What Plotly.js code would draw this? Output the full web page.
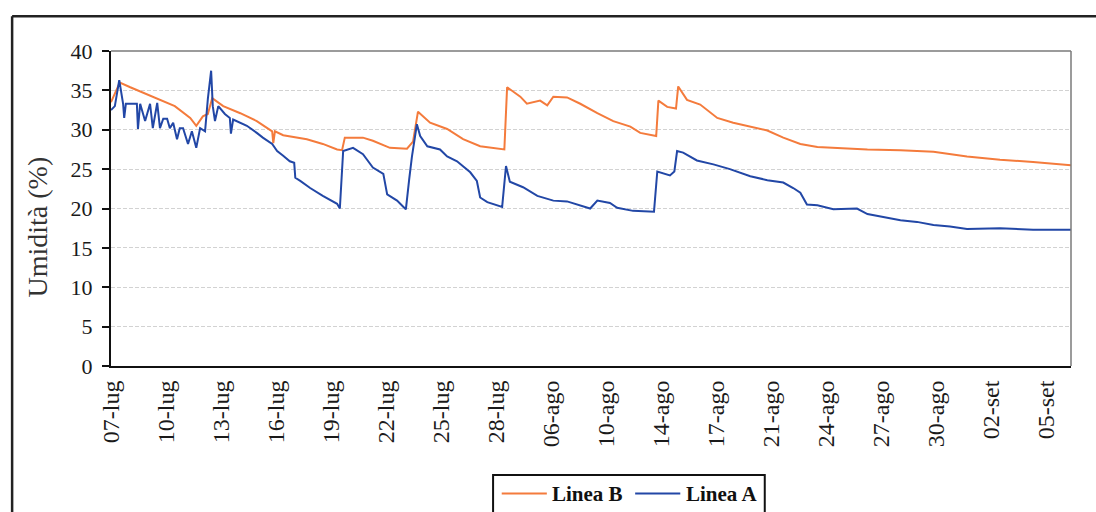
<!DOCTYPE html>
<html>
<head>
<meta charset="utf-8">
<script src="https://cdn.plot.ly/plotly-3.0.1.min.js"></script>
<style>
  html, body { margin: 0; padding: 0; background: #ffffff; }
  #chart { width: 1096px; height: 512px; }
</style>
</head>
<body>
<div id="chart"></div>
<script>
// Category labels along the time axis (one every tick step)
const tickLabels = ["07-lug", "10-lug", "13-lug", "16-lug", "19-lug", "22-lug", "25-lug", "28-lug",
  "06-ago", "10-ago", "14-ago", "17-ago", "21-ago", "24-ago", "27-ago", "30-ago", "02-set", "05-set"];

// Linea B – position along the axis (in tick steps) and moisture (%)
const posB = [0.00, 0.07, 0.16, 0.35, 0.84, 1.16, 1.44, 1.55, 1.67, 1.76, 1.84, 2.04, 2.35, 2.65, 2.93, 2.95, 2.98,
  3.13, 3.56, 3.85, 4.11, 4.20, 4.25, 4.58, 4.76, 5.07, 5.38, 5.49, 5.58, 5.80, 6.11, 6.40, 6.71, 6.95,
  7.15, 7.20, 7.44, 7.56, 7.80, 7.93, 8.04, 8.29, 8.53, 8.84, 9.13, 9.44, 9.62, 9.91, 9.95, 10.11, 10.27,
  10.31, 10.47, 10.71, 11.02, 11.31, 11.93, 12.22, 12.53, 12.84, 13.75, 14.35, 14.95, 15.56, 16.16, 16.76, 17.45];
const valB = [33.5, 34.7, 36.0, 35.4, 33.9, 33.0, 31.5, 30.5, 31.7, 32.0, 34.0, 33.0, 32.1, 31.1, 29.8, 28.3, 29.8,
  29.3, 28.8, 28.2, 27.5, 27.4, 29.0, 29.0, 28.6, 27.7, 27.6, 28.5, 32.3, 30.9, 30.1, 28.8, 27.9, 27.7,
  27.5, 35.4, 34.2, 33.3, 33.7, 33.1, 34.2, 34.1, 33.3, 32.1, 31.1, 30.4, 29.6, 29.2, 33.7, 32.9, 32.7,
  35.5, 33.8, 33.2, 31.5, 30.9, 29.9, 29.0, 28.2, 27.8, 27.5, 27.4, 27.2, 26.6, 26.2, 25.9, 25.5];

// Linea A – position along the axis (in tick steps) and moisture (%)
const posA = [0.00, 0.07, 0.15, 0.22, 0.24, 0.27, 0.47, 0.49, 0.53, 0.62, 0.71, 0.76, 0.84, 0.89, 0.95, 1.02,
  1.07, 1.13, 1.20, 1.25, 1.31, 1.40, 1.47, 1.55, 1.62, 1.71, 1.76, 1.82, 1.85, 1.89, 1.95, 2.07, 2.16,
  2.18, 2.22, 2.47, 2.65, 2.76, 2.93, 3.02, 3.13, 3.25, 3.33, 3.35, 3.44, 3.62, 3.85, 4.11, 4.16, 4.22,
  4.40, 4.58, 4.76, 4.95, 5.02, 5.20, 5.33, 5.36, 5.42, 5.47, 5.56, 5.62, 5.75, 5.98, 6.11, 6.29, 6.53,
  6.65, 6.71, 6.84, 7.11, 7.18, 7.25, 7.49, 7.75, 8.04, 8.29, 8.53, 8.71, 8.84, 9.07, 9.20, 9.49, 9.87,
  9.93, 10.16, 10.24, 10.29, 10.40, 10.65, 10.95, 11.25, 11.62, 11.93, 12.22, 12.40, 12.53, 12.65, 12.84,
  13.13, 13.56, 13.75, 14.04, 14.35, 14.65, 14.95, 15.25, 15.56, 16.16, 16.76, 17.45];
const valA = [32.5, 33.0, 36.3, 33.3, 31.5, 33.3, 33.3, 30.1, 33.3, 31.1, 33.3, 30.2, 33.4, 30.2, 31.4, 31.4,
  30.2, 30.9, 28.8, 30.2, 30.2, 28.2, 29.8, 27.7, 30.2, 29.8, 33.9, 37.5, 33.0, 31.1, 33.0, 32.0, 31.5,
  29.5, 31.3, 30.5, 29.6, 29.0, 28.2, 27.3, 26.7, 26.0, 25.8, 23.9, 23.5, 22.6, 21.6, 20.6, 20.0, 27.3,
  27.7, 26.9, 25.2, 24.4, 21.8, 21.0, 20.1, 19.9, 23.7, 26.6, 30.7, 29.2, 27.9, 27.5, 26.6, 26.0, 24.6,
  23.5, 21.4, 20.8, 20.2, 25.4, 23.4, 22.7, 21.6, 21.0, 20.9, 20.4, 20.0, 21.0, 20.7, 20.1, 19.7, 19.6,
  24.7, 24.2, 24.7, 27.3, 27.1, 26.1, 25.6, 25.0, 24.1, 23.6, 23.3, 22.6, 22.0, 20.5, 20.4,
  19.9, 20.0, 19.3, 18.9, 18.5, 18.3, 17.9, 17.7, 17.4, 17.5, 17.3, 17.3];

const yTicks = [0, 5, 10, 15, 20, 25, 30, 35, 40];
const tickPos = tickLabels.map((_, i) => i);

const serif = "Liberation Serif, Times New Roman, serif";
const colorB = "#F47B3C";
const colorA = "#2247A6";
const nameB = "Linea B";
const nameA = "Linea A";

const traces = [
  { name: nameB, x: posB, y: valB, type: "scatter", mode: "lines", line: { color: colorB, width: 2 } },
  { name: nameA, x: posA, y: valA, type: "scatter", mode: "lines", line: { color: colorA, width: 2 } }
];

// Legend box below the plot, drawn in paper coordinates so it does not push the margins
const legY = -0.405;
const legendShapes = [
  { type: "rect", xref: "paper", yref: "paper", x0: 0.398, x1: 0.681, y0: -0.346, y1: -0.48,
    line: { color: "#111111", width: 2 }, fillcolor: "#ffffff" },
  { type: "line", xref: "paper", yref: "paper", x0: 0.407, x1: 0.454, y0: legY, y1: legY,
    line: { color: colorB, width: 2 } },
  { type: "line", xref: "paper", yref: "paper", x0: 0.546, x1: 0.593, y0: legY, y1: legY,
    line: { color: colorA, width: 2 } }
];
const legendLabels = [
  { text: "<b>" + nameB + "</b>", x: 0.457 },
  { text: "<b>" + nameA + "</b>", x: 0.597 }
].map(d => ({
  text: d.text, xref: "paper", yref: "paper", x: d.x, y: legY,
  xanchor: "left", yanchor: "middle", showarrow: false,
  font: { family: serif, size: 21, color: "#111111" }
}));

const layout = {
  width: 1096, height: 512,
  margin: { l: 111, r: 25, t: 51, b: 146 },
  paper_bgcolor: "#ffffff",
  plot_bgcolor: "#ffffff",
  showlegend: false,
  xaxis: {
    range: [0, 17.45],
    tickmode: "array",
    tickvals: tickPos,
    ticktext: tickLabels,
    tickangle: -90,
    ticks: "",
    showgrid: false,
    zeroline: false,
    showline: true,
    linecolor: "#111111",
    linewidth: 2,
    automargin: false,
    tickfont: { family: serif, size: 24, color: "#1a1a1a" },
    ticklabelstandoff: 3
  },
  yaxis: {
    range: [0, 40],
    tickmode: "array",
    tickvals: yTicks,
    ticks: "outside",
    ticklen: 7,
    tickwidth: 2,
    tickcolor: "#111111",
    showline: true,
    linecolor: "#111111",
    linewidth: 2,
    zeroline: false,
    automargin: false,
    showgrid: true,
    gridcolor: "#d2d2d2",
    gridwidth: 1,
    griddash: "4px,2px",
    tickfont: { family: serif, size: 22, color: "#1a1a1a" },
    ticklabelstandoff: 5
  },
  annotations: [
    {
      text: "Umidità (%)",
      xref: "paper", yref: "paper",
      x: -0.077, y: 0.44,
      xanchor: "center", yanchor: "middle",
      textangle: -90,
      showarrow: false,
      font: { family: serif, size: 28, color: "#333333" }
    }
  ].concat(legendLabels),
  shapes: [
    // plot-area frame (top and right edges)
    { type: "line", xref: "paper", yref: "paper", x0: 0, x1: 1, y0: 1, y1: 1,
      line: { color: "#7a7a7a", width: 1.5 } },
    { type: "line", xref: "paper", yref: "paper", x0: 1, x1: 1, y0: 0, y1: 1,
      line: { color: "#7a7a7a", width: 1.5 } },
    // outer chart frame
    { type: "line", xref: "paper", yref: "paper", x0: -0.103, x1: 1.03, y0: 1.11, y1: 1.11,
      line: { color: "#222222", width: 2.5 } },
    { type: "line", xref: "paper", yref: "paper", x0: -0.103, x1: -0.103, y0: 1.11, y1: -0.6,
      line: { color: "#222222", width: 2.5 } }
  ].concat(legendShapes)
};

Plotly.newPlot("chart", traces, layout, { displayModeBar: false, staticPlot: true });
</script>
</body>
</html>
